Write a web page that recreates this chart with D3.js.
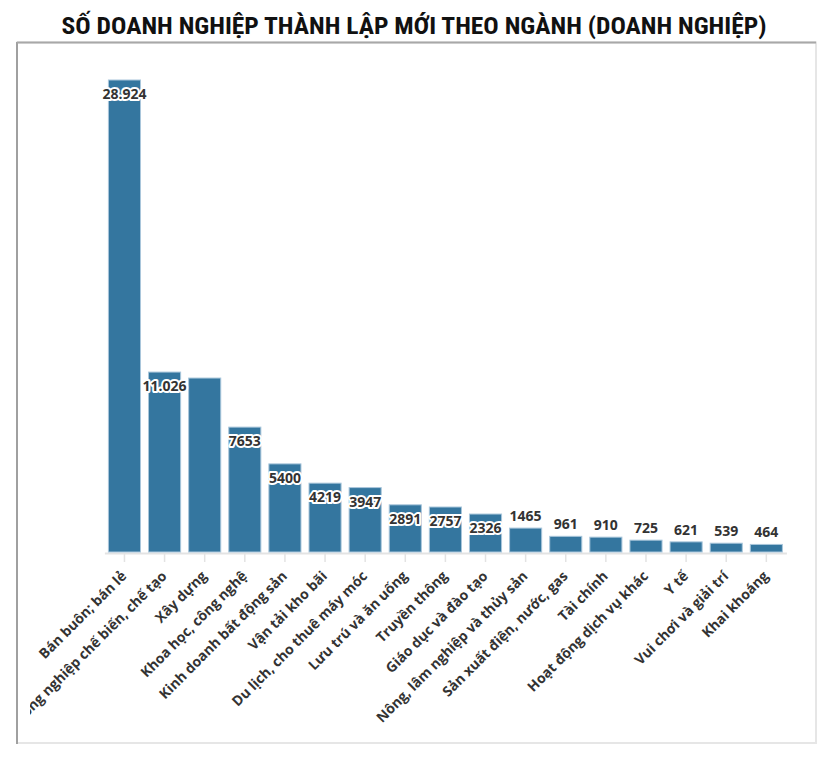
<!DOCTYPE html>
<html>
<head>
<meta charset="utf-8">
<script src="https://cdn.jsdelivr.net/npm/d3@7/dist/d3.min.js"></script>
<style>
  html, body { margin: 0; padding: 0; background: #fff; }
  svg { display: block; }
</style>
</head>
<body>
<svg id="chart" width="826" height="759"></svg>
<script>
const title = "SỐ DOANH NGHIỆP THÀNH LẬP MỚI THEO NGÀNH (DOANH NGHIỆP)";
const categories = ["Bán buôn; bán lẻ","Công nghiệp chế biến, chế tạo","Xây dựng","Khoa học, công nghệ","Kinh doanh bất động sản","Vận tải kho bãi","Du lịch, cho thuê máy móc","Lưu trú và ăn uống","Truyền thông","Giáo dục và đào tạo","Nông, lâm nghiệp và thủy sản","Sản xuất điện, nước, gas","Tài chính","Hoạt động dịch vụ khác","Y tế","Vui chơi và giải trí","Khai khoáng"];
const values = [28924,11026,10660,7653,5400,4219,3947,2891,2757,2326,1465,961,910,725,621,539,464];
const valueLabels = ["28.924","11.026","","7653","5400","4219","3947","2891","2757","2326","1465","961","910","725","621","539","464"];

const svg = d3.select("#chart");

// frame
svg.append("rect").attr("x",17).attr("y",42.5).attr("width",799).attr("height",700.5)
  .attr("fill","none").attr("stroke","#e6e6e6").attr("stroke-width",2);
svg.append("line").attr("x1",17).attr("x2",17).attr("y1",42).attr("y2",744)
  .attr("stroke","#a0a0a0").attr("stroke-width",2);
svg.append("line").attr("x1",17).attr("x2",816).attr("y1",42.5).attr("y2",42.5)
  .attr("stroke","#a8a8a8").attr("stroke-width",2);

// title
svg.append("text").attr("x",414).attr("y",34).attr("text-anchor","middle")
  .attr("font-family","'Liberation Sans Narrow','Roboto Condensed',Roboto,sans-serif")
  .attr("font-weight","bold").attr("font-size",24).attr("fill","#111")
  .attr("textLength",705).attr("lengthAdjust","spacingAndGlyphs")
  .text(title);

const x = d3.scaleBand().domain(categories).range([104.4, 786.4]).paddingInner(0.2).paddingOuter(0.1);
const y = d3.scaleLinear().domain([0, 28924]).range([552, 80]);

svg.append("defs").append("clipPath").attr("id","clip")
  .append("rect").attr("x",30).attr("y",0).attr("width",790).attr("height",759);

// axis
const axisG = svg.append("g").attr("transform","translate(0,553)")
  .call(d3.axisBottom(x).tickSize(9).tickSizeOuter(0).tickFormat(""));
axisG.select(".domain").attr("stroke","#e3e3e3").attr("stroke-width",2);
axisG.selectAll(".tick line").attr("stroke","#e3e3e3").attr("stroke-width",1.5);

// bars
svg.append("g").selectAll("rect").data(categories).join("rect")
  .attr("x", d => x(d)).attr("width", x.bandwidth())
  .attr("y", (d,i) => y(values[i])).attr("height", (d,i) => y(0) - y(values[i]))
  .attr("fill","#34769f").attr("stroke","#a9c6db").attr("stroke-width",1);

// value labels
svg.append("g").selectAll("text").data(categories).join("text")
  .attr("x", d => x(d) + x.bandwidth()/2)
  .attr("y", (d,i) => (y(0)-y(values[i]) > 30) ? y(values[i]) + 19 : y(values[i]) - 7)
  .attr("text-anchor","middle")
  .attr("font-family","'Open Sans',sans-serif").attr("font-weight","bold").attr("font-size",14)
  .attr("fill","#333").attr("stroke","#fff").attr("stroke-width",4)
  .attr("stroke-linejoin","round").attr("paint-order","stroke")
  .text((d,i) => valueLabels[i]);

// category labels
svg.append("g").attr("clip-path","url(#clip)").selectAll("text").data(categories).join("text")
  .attr("transform", d => `translate(${x(d) + x.bandwidth()/2 + 3},${577}) rotate(-45)`)
  .attr("text-anchor","end")
  .attr("font-family","'Open Sans',sans-serif").attr("font-weight","bold").attr("font-size",14)
  .attr("fill","#333")
  .text(d => d);
</script>
</body>
</html>
